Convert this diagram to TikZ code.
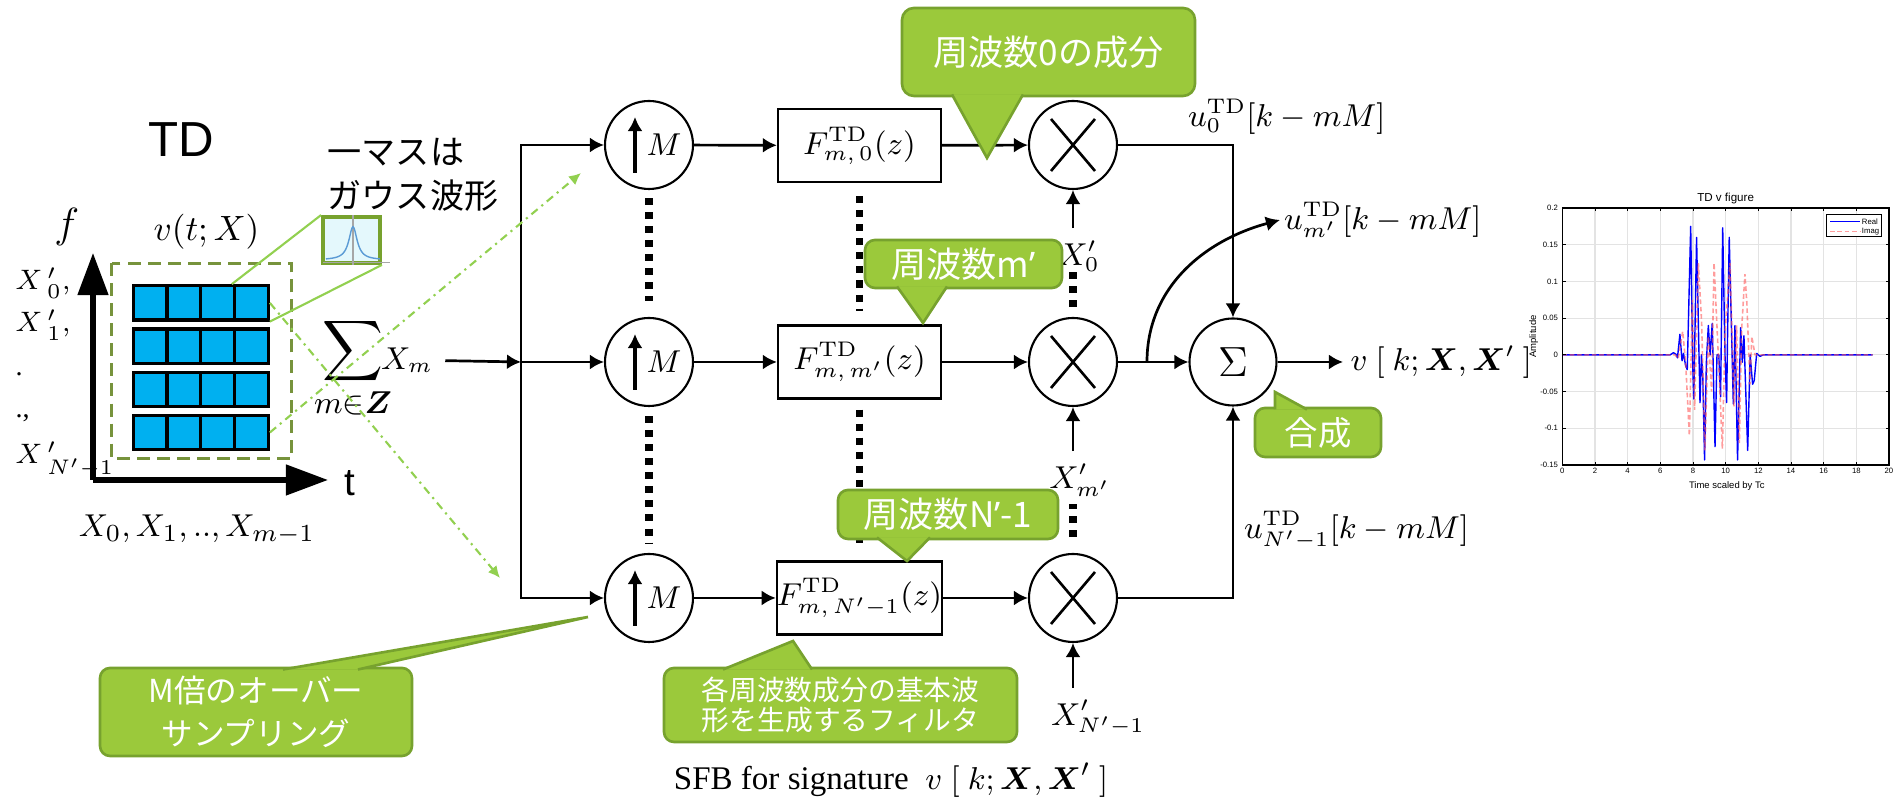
\documentclass[tikz,border=0pt]{standalone}
\usepackage{amsmath}
\usepackage[no-math]{fontspec}
\setmainfont{Liberation Serif}
\newfontfamily\jpfont{Noto Sans CJK JP}
\newfontfamily\arialfont{Liberation Sans}
\newfontfamily\latnfont{Noto Sans}
\usepackage{xcolor}
\usepackage{tikz}
\usetikzlibrary{arrows.meta, positioning, calc}
\definecolor{Leaf}{HTML}{9BC93B}
\definecolor{LeafDark}{HTML}{77A22E}
\definecolor{Lime}{HTML}{92D050}
\definecolor{Olive}{HTML}{77933C}
\definecolor{Cell}{HTML}{00B0F0}
\definecolor{Ice}{HTML}{E4F8FC}
\definecolor{Wave}{HTML}{5B9BD5}
\definecolor{GridGray}{HTML}{E3E3E3}
\definecolor{ImagRed}{HTML}{FF5A5A}

\begin{document}
\begin{tikzpicture}[
        font=\fontsize{9}{11}\selectfont,
        rel/.style={-{Latex[length=4pt,width=4.3pt]}, line width=0.77pt},
        upsmp/.style={draw, circle, line width=0.6pt, minimum size=0.88cm, inner sep=0pt,
          path picture={\draw[line width=0.95pt, -{Latex[length=4pt,width=4.3pt]}]
            ([shift={(-0.14,-0.28)}]path picture bounding box.center) -- ++(0,0.56);}},
        mult/.style={draw, circle, line width=0.6pt, minimum size=0.88cm, inner sep=0pt,
          path picture={\draw[line width=0.75pt]
            ([shift={(-0.22,0.26)}]path picture bounding box.center) -- ++(0.44,-0.52)
            ([shift={(0.22,0.26)}]path picture bounding box.center) -- ++(-0.44,-0.52);}},
        filt/.style={draw, line width=0.65pt, minimum width=1.63cm, minimum height=0.73cm, inner sep=0pt},
        dotline/.style={line width=2pt, dash pattern=on 2pt off 2pt},
        balloon/.style={fill=Leaf, draw=LeafDark, line width=0.75pt, rounded corners=1mm, text=white,
          align=center, inner sep=0pt, font=\jpfont\fontsize{10}{12}\selectfont},
        tail/.style={fill=Leaf, draw=LeafDark, line width=0.75pt, line join=miter},
        cellrow/.style={draw, fill=Cell, line width=0.9pt, minimum width=1.35cm, minimum height=0.343cm, inner sep=0pt,
          path picture={\foreach \cx in {-0.3375,0,0.3375}
            \draw[line width=0.9pt] ([xshift=\cx cm]path picture bounding box.north) -- ([xshift=\cx cm]path picture bounding box.south);}},
        leftlab/.style={anchor=west, inner sep=0pt, font=\fontsize{8}{10}\selectfont},
        axisarr/.style={line width=1.5pt, -{Triangle[length=12pt,width=8.5pt]}},
        ovsarrow/.style={draw=Lime, line width=0.6pt, dash pattern=on 2.3pt off 1.4pt on 0.6pt off 1.4pt,
          -{Latex[length=3.4pt,width=3.2pt]}},
        tick/.style={font=\arialfont\fontsize{2.2}{2.6}\selectfont}
      ]
        \useasboundingbox (0,0) rectangle (18.95,-8.01);

        \node[font=\arialfont\fontsize{14}{16}\selectfont] (tdlab) at (1.81,-1.40) {TD};
        \node[font=\jpfont\fontsize{9.7}{12.5}\selectfont, align=left, inner sep=0pt] (masu) at (4.13,-1.75) {一マスは\\ガウス波形};
        \node[draw=LeafDark, line width=1.1pt, fill=Ice, minimum width=0.57cm, minimum height=0.46cm, inner sep=0pt] (gauss) at (3.515,-2.40) {};
        \draw[gray!70, line width=0.3pt] ([shift={(0.02,0.023)}]gauss.south west) -- ++(0.67,0);
        \draw[gray!70, line width=0.3pt] ([xshift=0.015cm]gauss.north) -- ([xshift=0.015cm]gauss.south);
        \draw[Wave, line width=0.4pt] plot[domain=-0.27:0.27, samples=61] ({3.53+\x}, {-2.60+0.333/(1+(\x/0.05)^2)});

        \node[font=\fontsize{13}{15}\selectfont] (faxis) at (0.667,-2.27) {$f$};
        \node[font=\fontsize{10}{12}\selectfont] (vtx) at (2.065,-2.32) {$v(t;X)$};
        \draw[Olive, line width=0.9pt, dash pattern=on 3.7pt off 2pt] (1.117,-2.633) rectangle (2.917,-4.583);
        \foreach \i in {1,...,4}
          \node[cellrow] (row\i) at (2.008,{-3.029-0.432*(\i-1)}) {};
        \coordinate (org) at (0.93,-4.80);
        \draw[axisarr] (org) -- ++(0,2.27);
        \draw[axisarr] (org) -- ++(2.35,0);
        \node[font=\arialfont\fontsize{11}{13}\selectfont] (taxis) at (3.50,-4.83) {t};
        \node[leftlab] (xp0) at (0.15,-2.83) {$X\,{}'_{0},$};
        \node[leftlab] (xp1) at (0.15,-3.25) {$X\,{}'_{1},$};
        \node[leftlab] (xpd) at (0.15,-3.74) {.};
        \node[leftlab] (xpc) at (0.15,-4.18) {.,};
        \node[leftlab] (xpn) at (0.15,-4.60) {$X\,{}'_{N'-1}$};
        \node[font=\fontsize{9.5}{11}\selectfont] (xseq) at (1.97,-5.30) {$X_0, X_1,..,X_{m-1}$};

        \node[font=\fontsize{12.5}{14}\selectfont, inner sep=0pt] (sigx) at (3.53,-3.68) {$\displaystyle\sum_{m\in\boldsymbol{Z}}$};
        \node (xm) at (4.07,-3.60) {$X_m$};
        \coordinate (split) at (5.21,-3.62);

        \node[upsmp] (up0) at (6.49,-1.45) {\hspace{0.3cm}$M$};
        \node[upsmp] (up1) at (6.49,-3.62) {\hspace{0.3cm}$M$};
        \node[upsmp] (up2) at (6.49,-5.98) {\hspace{0.3cm}$M$};
        \node[filt] (flt0) at (8.595,-1.455) {$F_{m,\,0}^{\mathrm{TD}}(z)$};
        \node[filt] (flt1) at (8.595,-3.62) {$F_{m,\,m'}^{\mathrm{TD}}(z)$};
        \node[filt] (flt2) at (8.595,-5.98) {$F_{m,\,N'-1}^{\mathrm{TD}}(z)$};
        \node[mult] (mul0) at (10.73,-1.45) {};
        \node[mult] (mul1) at (10.73,-3.62) {};
        \node[mult] (mul2) at (10.73,-5.98) {};
        \node[circle, draw, line width=0.6pt, minimum size=0.87cm, inner sep=0pt, font=\fontsize{12}{14}\selectfont] (sum) at (12.33,-3.62) {$\Sigma$};

        \node[anchor=west, inner sep=1pt] (u0) at (11.84,-1.17) {$u_{0}^{\mathrm{TD}}[k-mM]$};
        \node[anchor=west, inner sep=1pt] (um) at (12.80,-2.20) {$u_{m'}^{\mathrm{TD}}[k-mM]$};
        \node (un) at (13.565,-5.30) {$u_{N'-1}^{\mathrm{TD}}[k-mM]$};
        \node[anchor=west, inner sep=2pt] (vout) at (13.43,-3.62) {$v\ [\ k;\boldsymbol{X},\boldsymbol{X}'\ ]$};
        \node (x0p) at (10.79,-2.56) {$X'_{0}$};
        \node (xmp) at (10.80,-4.80) {$X'_{m'}$};
        \node (xnp) at (10.98,-7.18) {$X'_{N'-1}$};
        \node[font=\fontsize{9.4}{11}\selectfont] (cap) at (8.91,-7.80) {SFB for signature\ \ $v\ [\ k;\boldsymbol{X},\boldsymbol{X}'\ ]$};

        \draw[rel] (xm) -- (split);
        \draw[rel] (split) |- (up0);
        \draw[rel] (split) -- (up1);
        \draw[rel] (split) |- (up2);
        \foreach \k in {0,1,2} {
          \draw[rel] (up\k) -- (flt\k);
          \draw[rel] (flt\k) -- (mul\k);
        }
        \draw[rel] (mul0) -| (sum);
        \draw[rel] (mul1) -- (sum);
        \draw[rel] (mul2) -| (sum);
        \coordinate (tap) at (11.47,-3.62);
        \draw[rel] (tap) to[out=90, in=195] (um.west);
        \draw[rel] (sum) -- (vout);
        \draw[rel] (x0p.north -| mul0) -- (mul0);
        \draw[rel] (xmp.north -| mul1) -- (mul1);
        \draw[rel] (xnp.north -| mul2) -- (mul2);

        \draw[dotline] ([yshift=-0.08cm]up0.south) -- ([yshift=0.16cm]up1.north);
        \draw[dotline] ([yshift=-0.09cm]up1.south) -- ([yshift=0.09cm]up2.north);
        \draw[dotline] ([yshift=-0.13cm]flt0.south) -- ([yshift=0.13cm]flt1.north);
        \draw[dotline] ([yshift=-0.10cm]flt1.south) -- ([yshift=0.11cm]flt2.north);
        \draw[dotline] ([yshift=0.10cm]mul1.north) -- ++(0,0.35);
        \draw[dotline] ([yshift=0.16cm]mul2.north) -- ++(0,0.33);

        \draw[Lime, line width=0.6pt] ([xshift=0.31cm]row1.north) -- (gauss.north west);
        \draw[Lime, line width=0.6pt] (row1.south east) -- (gauss.south east);
        \coordinate (ovtop) at (5.81,-1.73);
        \coordinate (ovbot) at (5.00,-5.78);
        \draw[ovsarrow] (row4.east) -- (ovtop);
        \draw[ovsarrow] (row1.east) -- (ovbot);

        \node[balloon, rounded corners=1.2mm, minimum width=2.93cm, minimum height=0.88cm] (cfreq0) at (10.485,-0.52) {周波数0の成分};
        \filldraw[tail] (9.52,-0.945) -- (9.87,-1.58) -- (10.23,-0.945);
        \node[balloon, minimum width=1.97cm, minimum height=0.48cm] (cfreqm) at (9.635,-2.64) {周波数m{\latnfont ’}};
        \filldraw[tail] (8.97,-2.865) -- (9.23,-3.23) -- (9.47,-2.865);
        \node[balloon, minimum width=2.20cm, minimum height=0.49cm] (cfreqn) at (9.48,-5.145) {周波数N{\latnfont ’}-1};
        \filldraw[tail] (8.77,-5.375) -- (9.07,-5.61) -- (9.30,-5.375);
        \node[balloon, font=\jpfont\fontsize{7.9}{8.5}\selectfont, minimum width=3.53cm, minimum height=0.74cm] (cfilt) at (8.405,-7.05) {各周波数成分の基本波\\形を生成するフィルタ};
        \filldraw[tail] (7.23,-6.695) -- (7.93,-6.41) -- (8.12,-6.695);
        \node[balloon, font=\jpfont\fontsize{9}{12.2}\selectfont, minimum width=3.12cm, minimum height=0.88cm] (covs) at (2.56,-7.12) {M倍のオーバー\\サンプリング};
        \filldraw[tail] (2.83,-6.695) -- (5.88,-6.17) -- (3.58,-6.695);
        \node[balloon, font=\jpfont\fontsize{9.5}{11}\selectfont, minimum width=1.26cm, minimum height=0.49cm] (csum) at (13.18,-4.325) {合成};
        \filldraw[tail] (12.75,-4.095) -- (12.75,-3.92) -- (13.07,-4.095);

        \begin{scope}[shift={(15.623,-3.549)}, x=0.16335cm, y=7.343cm]
          \foreach \gx in {2,4,...,18}
            \draw[GridGray, line width=0.3pt] (\gx,-0.15) -- (\gx,0.2);
          \foreach \gy in {-0.1,-0.05,0,0.05,0.1,0.15}
            \draw[GridGray, line width=0.3pt] (0,\gy) -- (20,\gy);
          \draw[blue, line width=0.4pt, line join=round] plot coordinates {
            (0,0) (6.6,0) (6.8,0.003) (6.95,0.001) (7.05,-0.004) (7.2,0.028) (7.33,-0.008) (7.42,0.002)
            (7.55,-0.015) (7.65,-0.02) (7.86,0.175) (7.98,-0.01) (8.05,-0.06) (8.12,0.03) (8.22,0.16)
            (8.43,-0.065) (8.52,0.0) (8.6,-0.03) (8.71,-0.143) (8.82,-0.01) (8.94,0.04) (9.05,0.0)
            (9.18,0.043) (9.35,-0.125) (9.47,0.0) (9.58,0.0) (9.69,-0.057) (9.82,0.173) (9.96,0.0)
            (10.06,-0.065) (10.12,0.03) (10.22,0.16) (10.47,-0.067) (10.57,0.04) (10.73,-0.143)
            (10.92,0.037) (11.02,-0.01) (11.12,0.026) (11.35,-0.13) (11.5,0.0) (11.65,-0.04)
            (11.75,-0.035) (11.9,0.002) (12.1,-0.002) (12.3,0) (19,0)};
          \draw[ImagRed, opacity=0.6, line width=0.45pt, dash pattern=on 1.3pt off 0.8pt] plot coordinates {
            (0,0) (6.9,0) (7.1,-0.005) (7.2,0.01) (7.37,0.032) (7.55,-0.01) (7.78,-0.11) (7.96,0.075)
            (8.1,-0.075) (8.33,0.125) (8.53,0.045) (8.73,-0.13) (8.94,0.025) (9.14,-0.05) (9.29,0.125)
            (9.55,0.0) (9.8,-0.128) (9.96,0.03) (10.27,0.125) (10.51,-0.07) (10.67,0.04) (10.84,-0.12)
            (10.98,0.035) (11.18,0.11) (11.3,0.07) (11.49,-0.04) (11.6,0.025) (11.8,0.0) (12.0,0) (19,0)};
          \draw[line width=0.3pt] (0,-0.15) rectangle (20,0.2);
          \foreach \gx in {0,2,...,20} {
            \draw[line width=0.25pt] (\gx,-0.15) -- ++(0,0.004) (\gx,0.2) -- ++(0,-0.004);
            \node[tick, below, inner sep=0.6pt] (xt\gx) at (\gx,-0.151) {\gx};
          }
          \foreach \gy [count=\k] in {-0.15,-0.1,-0.05,0,0.05,0.1,0.15,0.2} {
            \draw[line width=0.25pt] (0,\gy) -- ++(0.2,0) (20,\gy) -- ++(-0.2,0);
            \node[tick, left, inner sep=0.8pt] (yt\k) at (-0.05,\gy) {\gy};
          }
          \node[font=\arialfont\fontsize{3.3}{4}\selectfont] (ptitle) at (10,0.213) {TD v figure};
          \node[font=\arialfont\fontsize{2.7}{3.2}\selectfont] (pxlab) at (10.07,-0.178) {Time scaled by Tc};
          \node[rotate=90, font=\arialfont\fontsize{2.7}{3.2}\selectfont] (pylab) at (-1.75,0.025) {Amplitude};
          \draw[line width=0.25pt, fill=white] (16.17,0.161) rectangle (19.53,0.1907);
          \draw[blue, line width=0.4pt] (16.39,0.1815) -- (18.22,0.1815);
          \node[tick, anchor=west, inner sep=0pt] (lgre) at (18.3,0.1815) {Real};
          \draw[ImagRed, opacity=0.6, line width=0.45pt, dash pattern=on 1.3pt off 0.8pt] (16.39,0.168) -- (18.22,0.168);
          \node[tick, anchor=west, inner sep=0pt] (lgim) at (18.3,0.168) {Imag};
        \end{scope}
      \end{tikzpicture}
\end{document}
